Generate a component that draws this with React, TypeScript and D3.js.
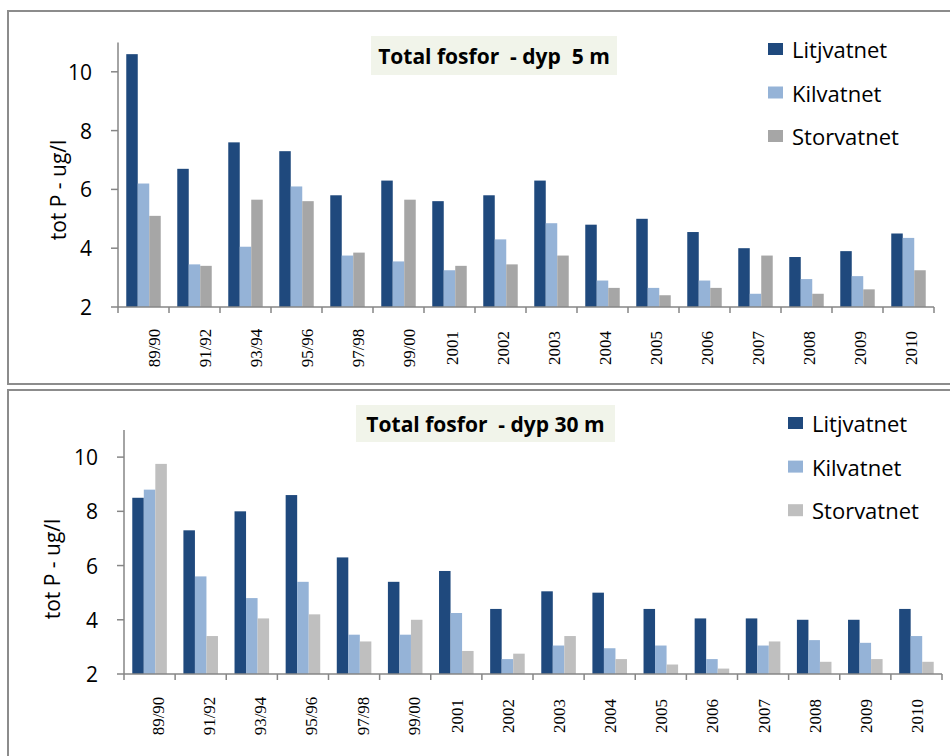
import React from 'react';
import * as d3 from 'd3';

// Sampling periods / years on the category axis
const categories = [
  '89/90', '91/92', '93/94', '95/96', '97/98', '99/00', '2001', '2002',
  '2003', '2004', '2005', '2006', '2007', '2008', '2009', '2010',
];

const lakes = ['Litjvatnet', 'Kilvatnet', 'Storvatnet'];

// Total phosphorus (ug/l), depth 5 m
const litjvatnet5 = [10.6, 6.7, 7.6, 7.3, 5.8, 6.3, 5.6, 5.8, 6.3, 4.8, 5.0, 4.55, 4.0, 3.7, 3.9, 4.5];
const kilvatnet5 = [6.2, 3.45, 4.05, 6.1, 3.75, 3.55, 3.25, 4.3, 4.85, 2.9, 2.65, 2.9, 2.45, 2.95, 3.05, 4.35];
const storvatnet5 = [5.1, 3.4, 5.65, 5.6, 3.85, 5.65, 3.4, 3.45, 3.75, 2.65, 2.4, 2.65, 3.75, 2.45, 2.6, 3.25];

// Total phosphorus (ug/l), depth 30 m
const litjvatnet30 = [8.5, 7.3, 8.0, 8.6, 6.3, 5.4, 5.8, 4.4, 5.05, 5.0, 4.4, 4.05, 4.05, 4.0, 4.0, 4.4];
const kilvatnet30 = [8.8, 5.6, 4.8, 5.4, 3.45, 3.45, 4.25, 2.55, 3.05, 2.95, 3.05, 2.55, 3.05, 3.25, 3.15, 3.4];
const storvatnet30 = [9.75, 3.4, 4.05, 4.2, 3.2, 4.0, 2.85, 2.75, 3.4, 2.55, 2.35, 2.2, 3.2, 2.45, 2.55, 2.45];

const yTicks = [2, 4, 6, 8, 10];
const yDomain: [number, number] = [2, 11];

const SANS = '"Open Sans", "Noto Sans", sans-serif';
const SERIF = '"Liberation Serif", "Times New Roman", serif';
const AXIS = '#868686';

type PanelProps = {
  title: string;
  values: number[][];
  colors: string[];
  frameY: number;
  frameH: number;
  x0: number;
  x1: number;
  yBottom: number;
  yTop: number;
  titleBox: { x: number; y: number; w: number; h: number };
  legendX: number;
  legendY: number;
  legendStep: number;
  labelY: number;
  labelShift: number;
  yTitleX: number;
  yTitleY: number;
};

function Panel(p: PanelProps) {
  const x = d3.scaleBand<string>().domain(categories).range([p.x0, p.x1]).paddingInner(0).paddingOuter(0);
  const bw = x.bandwidth();
  const groupW = bw * 0.676;
  const inner = d3.scaleBand<string>().domain(lakes).range([(bw - groupW) / 2, (bw + groupW) / 2]);
  const y = d3.scaleLinear().domain(yDomain).range([p.yBottom, p.yTop]);

  return (
    <g>
      <rect x={8} y={p.frameY} width={960} height={p.frameH} fill="#fff" stroke="#8c8c8c" strokeWidth={2} />
      <rect x={p.titleBox.x} y={p.titleBox.y} width={p.titleBox.w} height={p.titleBox.h} fill="#f1f4ea" />
      <text
        x={p.titleBox.x + p.titleBox.w / 2}
        y={p.titleBox.y + p.titleBox.h / 2}
        textAnchor="middle"
        dominantBaseline="central"
        fontFamily={SANS}
        fontWeight="bold"
        fontSize={21}
        fill="#000"
        style={{ whiteSpace: 'pre' }}
      >
        {p.title}
      </text>

      {/* bars */}
      {p.values.map((series, si) =>
        series.map((v, ci) => (
          <rect
            key={`${si}-${ci}`}
            x={(x(categories[ci]) as number) + (inner(lakes[si]) as number)}
            y={y(v)}
            width={inner.bandwidth()}
            height={y(yDomain[0]) - y(v)}
            fill={p.colors[si]}
          />
        ))
      )}

      {/* y axis */}
      <line x1={p.x0} x2={p.x0} y1={y(yDomain[1])} y2={y(yDomain[0])} stroke={AXIS} strokeWidth={1.5} />
      {yTicks.map((t) => (
        <g key={t}>
          <line x1={p.x0 - 7} x2={p.x0} y1={y(t)} y2={y(t)} stroke={AXIS} strokeWidth={1.5} />
          <text
            x={p.x0 - 26}
            y={y(t)}
            textAnchor="end"
            dominantBaseline="central"
            fontFamily={SANS}
            fontSize={21}
            fill="#000"
          >
            {t}
          </text>
        </g>
      ))}

      {/* x axis */}
      <line x1={p.x0} x2={p.x1} y1={y(yDomain[0])} y2={y(yDomain[0])} stroke={AXIS} strokeWidth={1.5} />
      {categories.concat(['']).map((c, i) => {
        const tx = p.x0 + i * bw;
        return <line key={`t${i}`} x1={tx} x2={tx} y1={y(yDomain[0])} y2={y(yDomain[0]) + 6} stroke={AXIS} strokeWidth={1.5} />;
      })}
      {categories.map((c) => {
        const cx = (x(c) as number) + bw / 2 + p.labelShift + (c.includes('/') ? 8 : 0);
        return (
          <text
            key={c}
            transform={`translate(${cx},${p.labelY}) rotate(-90)`}
            textAnchor="middle"
            dominantBaseline="central"
            fontFamily={SERIF}
            fontSize={17}
            fill="#000"
          >
            {c}
          </text>
        );
      })}

      <text
        transform={`translate(${p.yTitleX},${p.yTitleY}) rotate(-90)`}
        textAnchor="middle"
        dominantBaseline="central"
        fontFamily={SANS}
        fontSize={21}
        fill="#000"
      >
        tot P - ug/l
      </text>

      {/* legend */}
      {lakes.map((name, i) => (
        <g key={name}>
          <rect x={p.legendX} y={p.legendY + i * p.legendStep} width={15} height={12} fill={p.colors[i]} />
          <text
            x={p.legendX + 24}
            y={p.legendY + i * p.legendStep + 6}
            dominantBaseline="central"
            fontFamily={SANS}
            fontSize={22}
            fill="#000"
          >
            {name}
          </text>
        </g>
      ))}
    </g>
  );
}

export default function App() {
  return (
    <svg
      width={950}
      height={756}
      viewBox="0 0 950 756"
      style={{ position: 'absolute', left: 0, top: 0, background: '#fff' }}
    >
      <rect x={0} y={0} width={950} height={756} fill="#fff" />
      <Panel
        title="Total fosfor  - dyp  5 m"
        values={[litjvatnet5, kilvatnet5, storvatnet5]}
        colors={['#1f497d', '#95b3d7', '#a6a6a6']}
        frameY={11}
        frameH={373}
        x0={118}
        x1={934}
        yBottom={307}
        yTop={42.4}
        titleBox={{ x: 371, y: 36, w: 246, h: 39 }}
        legendX={768}
        legendY={43}
        legendStep={43.5}
        labelY={348}
        labelShift={3}
        yTitleX={58}
        yTitleY={190}
      />
      <Panel
        title="Total fosfor  - dyp 30 m"
        values={[litjvatnet30, kilvatnet30, storvatnet30]}
        colors={['#1f497d', '#95b3d7', '#bfbfbf']}
        frameY={390}
        frameH={400}
        x0={124}
        x1={942}
        yBottom={674}
        yTop={430}
        titleBox={{ x: 356, y: 405, w: 259, h: 37 }}
        legendX={788}
        legendY={417}
        legendStep={43.6}
        labelY={716}
        labelShift={1}
        yTitleX={52}
        yTitleY={569}
      />
    </svg>
  );
}
